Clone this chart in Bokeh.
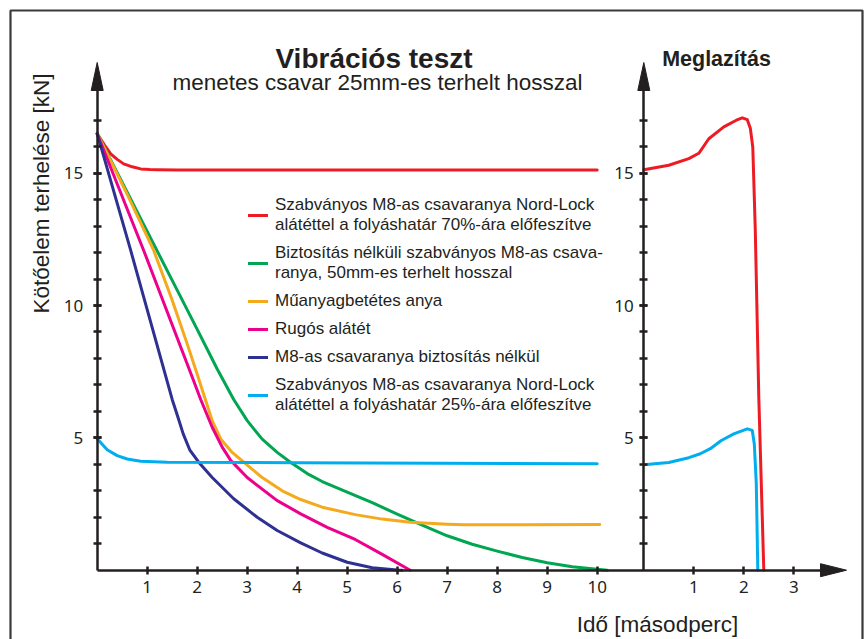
import math
from bokeh.plotting import figure
from bokeh.models import LinearAxis, FixedTicker, Range1d, Label, Legend, LegendItem
from bokeh.embed import file_html
from bokeh.resources import INLINE

# ---------------- data ----------------
# left panel: Vibrációs teszt  (x = time [s], y = load [kN])
red_x = [0, 0.15, 0.27, 0.4, 0.53, 0.7, 0.87, 1.05, 1.2, 1.6, 3.0, 6.0, 10.0]
red_y = [16.49, 16.05, 15.73, 15.52, 15.35, 15.24, 15.16, 15.14, 15.13, 15.12, 15.12, 15.12, 15.12]

green_x = [0, 0.5, 1.0, 1.5, 2.0, 2.4, 2.73, 3.0, 3.3, 3.6, 3.85, 4.2, 4.5, 5.0, 5.5, 6.0, 6.5, 7.0, 7.5, 8.0, 8.5, 9.0, 9.5, 10.0, 10.2]
green_y = [16.49, 14.65, 12.8, 10.95, 9.1, 7.6, 6.45, 5.65, 4.95, 4.45, 4.1, 3.65, 3.35, 2.95, 2.55, 2.12, 1.7, 1.3, 0.98, 0.72, 0.48, 0.28, 0.13, 0.04, 0.0]

orange_x = [0, 0.3, 0.6, 1.13, 1.5, 1.8, 2.0, 2.17, 2.3, 2.47, 2.7, 2.93, 3.3, 3.7, 4.07, 4.5, 5.16, 5.7, 6.26, 7.0, 7.35, 8.5, 10.05]
orange_y = [16.49, 15.35, 14.2, 12.08, 10.2, 8.55, 7.4, 6.41, 5.65, 4.96, 4.45, 4.08, 3.5, 3.0, 2.67, 2.38, 2.1, 1.93, 1.81, 1.74, 1.72, 1.72, 1.73]

pink_x = [0, 0.93, 1.9, 2.07, 2.3, 2.5, 2.67, 3.0, 3.6, 4.07, 4.6, 5.16, 5.7, 6.26]
pink_y = [16.49, 12.08, 7.3, 6.45, 5.4, 4.65, 4.15, 3.5, 2.63, 2.13, 1.62, 1.16, 0.6, 0.0]

navy_x = [0, 0.67, 1.5, 1.62, 1.72, 1.85, 2.03, 2.3, 2.73, 3.2, 3.6, 4.07, 4.5, 5.0, 5.5, 6.0, 6.1]
navy_y = [16.49, 12.08, 6.45, 5.75, 5.15, 4.55, 4.08, 3.5, 2.7, 2.0, 1.5, 1.03, 0.65, 0.3, 0.09, 0.01, 0.0]

cyan_x = [0, 0.2, 0.4, 0.6, 0.87, 1.4, 4.0, 10.0]
cyan_y = [4.97, 4.55, 4.33, 4.2, 4.12, 4.08, 4.06, 4.02]

# right panel: Meglazítás
red_r_x = [0, 0.5, 0.9, 1.1, 1.3, 1.6, 1.85, 1.97, 2.07, 2.13, 2.18, 2.23, 2.3, 2.4]
red_r_y = [15.13, 15.3, 15.55, 15.75, 16.3, 16.75, 17.0, 17.09, 17.02, 16.7, 15.98, 12.83, 6.53, 0.0]
cyan_r_x = [0, 0.5, 0.9, 1.13, 1.33, 1.55, 1.8, 2.07, 2.17, 2.21, 2.25, 2.28]
cyan_r_y = [3.98, 4.07, 4.25, 4.4, 4.59, 4.9, 5.15, 5.34, 5.28, 4.77, 3.26, 0.0]

legend_labels = [
    "Szabványos M8-as csavaranya Nord-Lock\nalátéttel a folyáshatár 70%-ára előfeszítve",
    "Biztosítás nélküli szabványos M8-as csava-\nranya, 50mm-es terhelt hosszal",
    "Műanyagbetétes anya",
    "Rugós alátét",
    "M8-as csavaranya biztosítás nélkül",
    "Szabványos M8-as csavaranya Nord-Lock\nalátéttel a folyáshatár 25%-ára előfeszítve",
]
x_ticks_left = [1, 2, 3, 4, 5, 6, 7, 8, 9, 10]
x_ticks_right = [1, 2, 3]
y_major_ticks = [5, 10, 15]
y_minor_ticks = list(range(1, 18))

title_text = "Vibrációs teszt"
subtitle_text = "menetes csavar 25mm-es terhelt hosszal"
right_title_text = "Meglazítás"
y_label_text = "Kötőelem terhelése [kN]"
x_label_text = "Idő [másodperc]"

# ---------------- layout helpers (page pixels -> data) ----------------
W, H = 867, 639
OFF = 0
X0, XR0, Y0 = 96.7, 643.3, 569.7   # page px of the origins
SX, SY = 50.0, 26.47               # px per unit


def dx(px):
    return (px - X0) / SX


def dxr(px):
    return (px - XR0) / SX


def dy(py):
    return (Y0 - py) / SY


AX = "#231f20"
C_RED, C_GREEN, C_ORANGE = "#ed1c24", "#00a651", "#f5a91c"
C_PINK, C_NAVY, C_CYAN = "#ec008c", "#2e3192", "#00aeef"

p = figure(width=W, height=H, output_backend="svg", toolbar_location=None,
           x_range=Range1d(dx(OFF), dx(OFF + W)), y_range=Range1d(dy(OFF + H), dy(OFF)),
           x_axis_location=None, y_axis_location=None,
           min_border=0, min_border_left=0, min_border_right=0,
           min_border_top=0, min_border_bottom=0)
p.extra_x_ranges = {"r": Range1d(dxr(OFF), dxr(OFF + W))}
p.xgrid.grid_line_color = None
p.ygrid.grid_line_color = None
p.outline_line_color = None
p.background_fill_color = "white"
p.border_fill_color = "white"

# outer frame (bottom edge is below the visible page)
p.line([dx(10), dx(10), dx(862), dx(862)], [dy(660), dy(10), dy(10), dy(660)],
       line_color="#3a3a3a", line_width=2.2)


def style_axis(ax, standoff):
    ax.axis_line_color = AX
    ax.axis_line_width = 2.5
    ax.major_tick_line_color = AX
    ax.major_tick_line_width = 2.5
    ax.minor_tick_line_color = AX
    ax.minor_tick_line_width = 2.5
    ax.major_tick_in = 4
    ax.major_tick_out = 4
    ax.minor_tick_in = 4
    ax.minor_tick_out = 4
    ax.major_label_text_font = "Noto Sans"
    ax.major_label_text_font_size = "17px"
    ax.major_label_text_color = AX
    ax.major_label_standoff = standoff


y_top = dy(88)
yl = LinearAxis(fixed_location=0, bounds=(0, y_top),
                ticker=FixedTicker(ticks=y_major_ticks, minor_ticks=y_minor_ticks))
style_axis(yl, 10)
p.add_layout(yl, "left")

yr = LinearAxis(fixed_location=dx(XR0), bounds=(0, y_top),
                ticker=FixedTicker(ticks=y_major_ticks, minor_ticks=y_minor_ticks))
style_axis(yr, 6)
p.add_layout(yr, "left")

xl = LinearAxis(fixed_location=0, bounds=(0, dx(822)),
                ticker=FixedTicker(ticks=x_ticks_left))
style_axis(xl, 7)
p.add_layout(xl, "below")

xr = LinearAxis(x_range_name="r", fixed_location=0,
                ticker=FixedTicker(ticks=x_ticks_right))
style_axis(xr, 7)
xr.axis_line_color = None
p.add_layout(xr, "below")

# arrow heads
p.patches(
    [[dx(X0 - 6), dx(X0), dx(X0 + 6)],
     [dx(XR0 - 6), dx(XR0), dx(XR0 + 6)],
     [dx(820), dx(846), dx(820)]],
    [[dy(90), dy(62), dy(90)],
     [dy(90), dy(62), dy(90)],
     [dy(Y0 + 6.5), dy(Y0), dy(Y0 - 6.5)]],
    fill_color=AX, line_color=AX, line_width=1)

# curves
LW = 3
kw = dict(line_width=LW, line_join="round", line_cap="round")
r_red = p.line(red_x, red_y, line_color=C_RED, **kw)
r_green = p.line(green_x, green_y, line_color=C_GREEN, **kw)
r_orange = p.line(orange_x, orange_y, line_color=C_ORANGE, **kw)
r_pink = p.line(pink_x, pink_y, line_color=C_PINK, **kw)
r_navy = p.line(navy_x, navy_y, line_color=C_NAVY, **kw)
r_cyan = p.line(cyan_x, cyan_y, line_color=C_CYAN, **kw)
p.line(red_r_x, red_r_y, line_color=C_RED, x_range_name="r", **kw)
p.line(cyan_r_x, cyan_r_y, line_color=C_CYAN, x_range_name="r", **kw)

renderers = [r_red, r_green, r_orange, r_pink, r_navy, r_cyan]
legend = Legend(
    items=[LegendItem(label=lab, renderers=[r]) for lab, r in zip(legend_labels, renderers)],
    location=(248, 224), orientation="vertical",
    glyph_width=20, glyph_height=20, label_standoff=7, spacing=8, padding=0, margin=0,
    background_fill_alpha=0, border_line_alpha=0,
    label_text_font="Liberation Sans", label_text_font_size="17px",
    label_text_line_height=1.2, label_text_color=AX, label_height=20)
p.add_layout(legend)

# texts
FONT = "Liberation Sans"
p.add_layout(Label(x=dx(373.5), y=dy(58.3), text=title_text, text_align="center",
                   text_baseline="alphabetic", text_font=FONT, text_font_style="bold",
                   text_font_size="28px", text_color=AX))
p.add_layout(Label(x=dx(377), y=dy(81.7), text=subtitle_text, text_align="center",
                   text_baseline="alphabetic", text_font=FONT,
                   text_font_size="22.5px", text_color=AX))
p.add_layout(Label(x=dx(716), y=dy(58.3), text=right_title_text, text_align="center",
                   text_baseline="alphabetic", text_font=FONT, text_font_style="bold",
                   text_font_size="21.5px", text_color=AX))
p.add_layout(Label(x=dx(41), y=dy(193), text=y_label_text, angle=math.pi / 2,
                   text_align="center", text_baseline="middle", text_font=FONT,
                   text_font_size="22.5px", text_color=AX))
p.add_layout(Label(x=dx(657), y=dy(624), text=x_label_text, text_align="center",
                   text_baseline="alphabetic", text_font=FONT,
                   text_font_size="22.5px", text_color=AX))

open("out.html", "w").write(file_html(p, INLINE))
